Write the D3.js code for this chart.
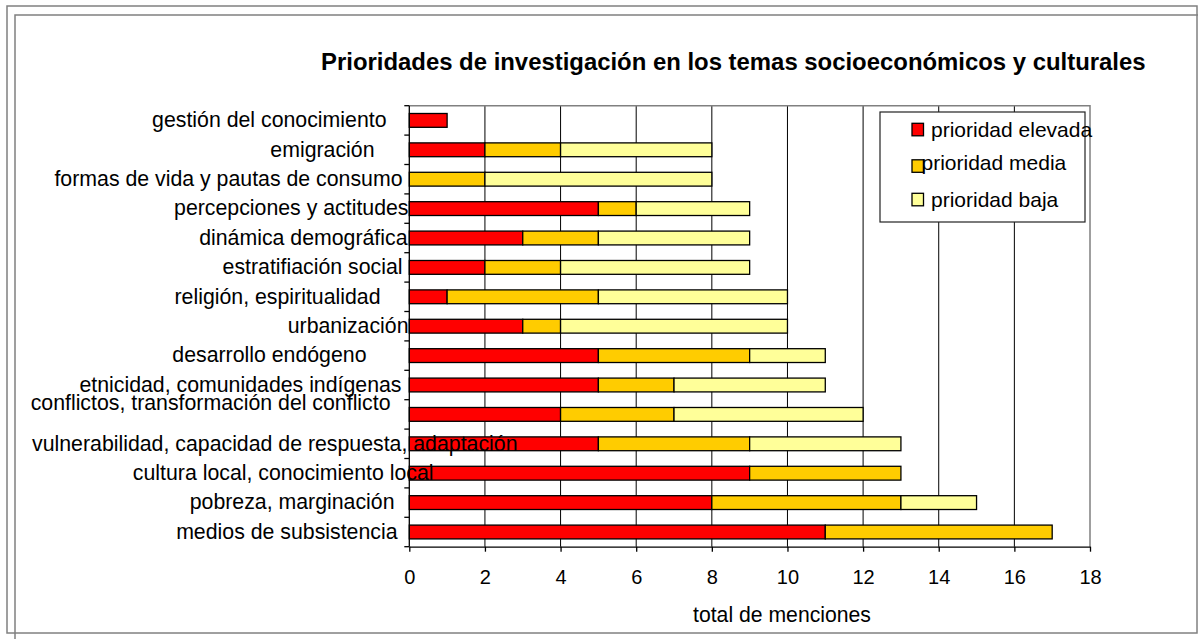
<!doctype html>
<html>
<head>
<meta charset="utf-8">
<script src="https://d3js.org/d3.v7.min.js"></script>
<style>
  body { margin: 0; background: #fff; }
  svg text { font-family: "Liberation Sans", Arial, sans-serif; fill: #000; }
</style>
</head>
<body>
<div id="chart"></div>
<script>
// data (top to bottom)
var categories = [
  "gestión del conocimiento",
  "emigración",
  "formas de vida y pautas de consumo",
  "percepciones y actitudes",
  "dinámica demográfica",
  "estratifiación social",
  "religión, espiritualidad",
  "urbanización",
  "desarrollo endógeno",
  "etnicidad, comunidades indígenas",
  "conflictos, transformación del conflicto",
  "vulnerabilidad, capacidad de respuesta, adaptación",
  "cultura local, conocimiento local",
  "pobreza, marginación",
  "medios de subsistencia"
];
var elevada = [1, 2, 0, 5, 3, 2, 1, 3, 5, 5, 4, 5, 9, 8, 11];
var media   = [0, 2, 2, 1, 2, 2, 4, 1, 4, 2, 3, 4, 4, 5, 6];
var baja    = [0, 4, 6, 3, 4, 5, 5, 6, 2, 4, 5, 4, 0, 2, 0];
var seriesNames = ["prioridad elevada", "prioridad media", "prioridad baja"];
var xTicks = [0, 2, 4, 6, 8, 10, 12, 14, 16, 18];
var title = "Prioridades de investigación en los temas socioeconómicos y culturales";
var xTitle = "total de menciones";

var colors = ["#ff0000", "#ffcc00", "#ffff99"];

var w = 1200, h = 639;
var plot = { left: 409.3, right: 1090, top: 105.7, bottom: 546.7 };

// label quirks of the original (overflowing / trailing spaces)
var labelShift = {
  "gestión del conocimiento": [-22, 0],
  "emigración": [-34, 0],
  "formas de vida y pautas de consumo": [-6, 0],
  "dinámica demográfica": [-1, 0],
  "estratifiación social": [-6, 0],
  "religión, espiritualidad": [-28, 0],
  "desarrollo endógeno": [-42, 0],
  "etnicidad, comunidades indígenas": [-7, 0],
  "conflictos, transformación del conflicto": [-18, -11.5],
  "vulnerabilidad, capacidad de respuesta, adaptación": [109, 0],
  "cultura local, conocimiento local": [25, 0],
  "pobreza, marginación": [-14, 0],
  "medios de subsistencia": [-11, 0]
};

var svg = d3.select("#chart").append("svg")
  .attr("width", w)
  .attr("height", h);

// frame
svg.append("rect")
  .attr("x", 7).attr("y", 6).attr("width", 1190).attr("height", 627)
  .attr("fill", "none").attr("stroke", "#808080").attr("stroke-width", 1.5);
svg.append("path")
  .attr("d", "M15,639V15H1198")
  .attr("fill", "none").attr("stroke", "#808080").attr("stroke-width", 1.5);

var x = d3.scaleLinear().domain([0, 18]).range([plot.left, plot.right]);
var rows = d3.scaleBand().domain(categories).range([plot.top, plot.bottom]);
var y = d3.scaleBand().domain(categories).range([plot.top, plot.bottom])
  .paddingInner(0.53).paddingOuter(0.265);

// gridlines
svg.append("g").selectAll("line")
  .data(xTicks.filter(function (d) { return d > 0 && d < 18; }))
  .enter().append("line")
  .attr("x1", function (d) { return x(d); })
  .attr("x2", function (d) { return x(d); })
  .attr("y1", plot.top).attr("y2", plot.bottom)
  .attr("stroke", "#000").attr("stroke-width", 1);

// plot border top/right
svg.append("path")
  .attr("d", "M" + plot.left + "," + plot.top + "H" + plot.right + "V" + plot.bottom)
  .attr("fill", "none").attr("stroke", "#808080").attr("stroke-width", 1.5);

// stacked bars
var table = categories.map(function (c, i) {
  return { cat: c, v: [elevada[i], media[i], baja[i]] };
});
var segs = [];
table.forEach(function (r) {
  var acc = 0;
  r.v.forEach(function (v, k) {
    if (v > 0) segs.push({ cat: r.cat, k: k, x0: acc, x1: acc + v });
    acc += v;
  });
});

svg.append("g").selectAll("rect")
  .data(segs)
  .enter().append("rect")
  .attr("x", function (d) { return x(d.x0); })
  .attr("y", function (d) { return y(d.cat); })
  .attr("width", function (d) { return x(d.x1) - x(d.x0); })
  .attr("height", y.bandwidth())
  .attr("fill", function (d) { return colors[d.k]; })
  .attr("stroke", "#000").attr("stroke-width", 1.3);

// x axis
var xAxis = svg.append("g")
  .attr("transform", "translate(0," + plot.bottom + ")")
  .call(d3.axisBottom(x).tickValues(xTicks).tickSize(5).tickPadding(18).tickSizeOuter(0));
xAxis.selectAll("text").style("font-size", "20px");
xAxis.selectAll("line, path").attr("stroke", "#000").attr("stroke-width", 1.3);

// y axis: line, ticks between categories, labels
var yAxis = svg.append("g");
yAxis.append("line")
  .attr("x1", plot.left).attr("x2", plot.left)
  .attr("y1", plot.top).attr("y2", plot.bottom)
  .attr("stroke", "#000").attr("stroke-width", 1.3);
yAxis.selectAll("line.tick")
  .data(categories.map(function (c) { return rows(c); }).concat([plot.bottom]))
  .enter().append("line")
  .attr("class", "tick")
  .attr("x1", plot.left - 5).attr("x2", plot.left)
  .attr("y1", function (d) { return d; }).attr("y2", function (d) { return d; })
  .attr("stroke", "#000").attr("stroke-width", 1.3);
yAxis.selectAll("text")
  .data(categories)
  .enter().append("text")
  .attr("text-anchor", "end")
  .attr("x", function (d) { return 408.5 + (labelShift[d] ? labelShift[d][0] : 0); })
  .attr("y", function (d) { return rows(d) + rows.bandwidth() / 2 + (labelShift[d] ? labelShift[d][1] : 0); })
  .attr("dy", "0.32em")
  .style("font-size", "21.3px")
  .text(function (d) { return d; });

// titles
svg.append("text")
  .attr("x", 733.3).attr("y", 70)
  .attr("text-anchor", "middle")
  .style("font-size", "23.9px").style("font-weight", "bold")
  .text(title);

svg.append("text")
  .attr("x", 782).attr("y", 622)
  .attr("text-anchor", "middle")
  .style("font-size", "21.2px")
  .text(xTitle);

// legend
var legend = svg.append("g");
legend.append("rect")
  .attr("x", 880).attr("y", 112).attr("width", 205).attr("height", 110)
  .attr("fill", "#fff").attr("stroke", "#222").attr("stroke-width", 1.2);
var items = legend.selectAll("g.item")
  .data(seriesNames)
  .enter().append("g")
  .attr("transform", function (d, i) { return "translate(0," + (129.8 + i * 35) + ")"; });
items.append("rect")
  .attr("x", 912)
  .attr("y", function (d, i) { return i === 1 ? -5 : -6.5; })
  .attr("width", 11.5).attr("height", 12.5)
  .attr("fill", function (d, i) { return colors[i]; })
  .attr("stroke", "#000").attr("stroke-width", 1.3);
items.append("text")
  .attr("x", function (d, i) { return i === 1 ? 921.5 : 931; })
  .attr("y", function (d, i) { return i === 1 ? -2 : 0; })
  .attr("dy", "0.35em")
  .style("font-size", "21px")
  .text(function (d) { return d; });
</script>
</body>
</html>
